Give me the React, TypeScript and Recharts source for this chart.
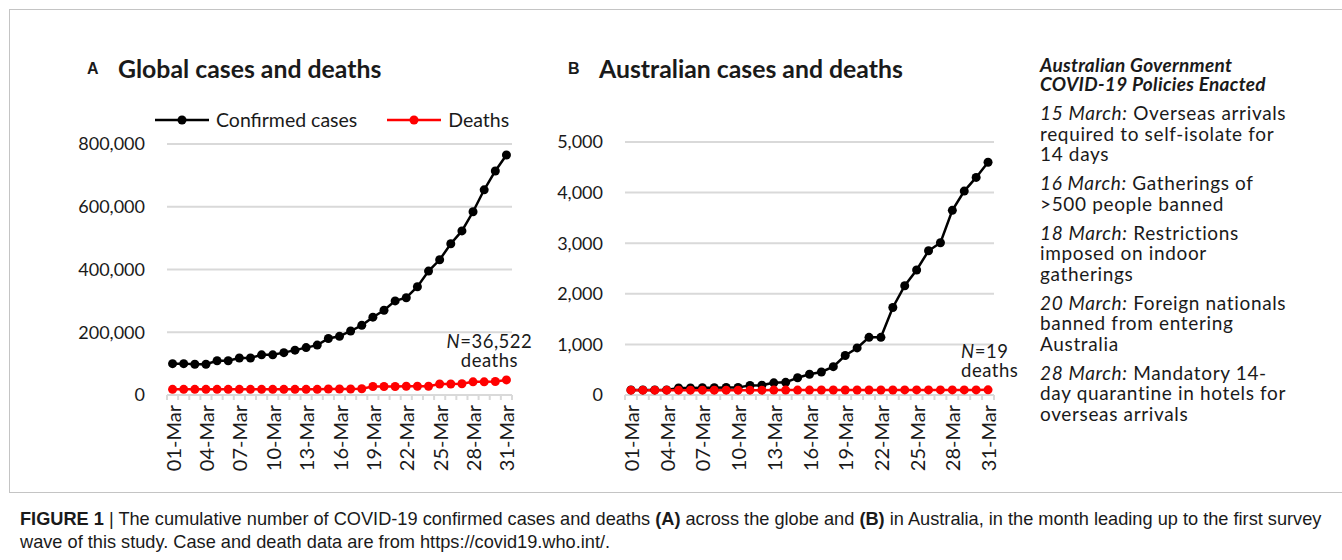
import React from 'react';
import { LineChart, Line, XAxis, YAxis, CartesianGrid, ReferenceDot } from 'recharts';

// categories: every day of March 2020
const days = [
  '01-Mar', '02-Mar', '03-Mar', '04-Mar', '05-Mar', '06-Mar', '07-Mar', '08-Mar', '09-Mar', '10-Mar',
  '11-Mar', '12-Mar', '13-Mar', '14-Mar', '15-Mar', '16-Mar', '17-Mar', '18-Mar', '19-Mar', '20-Mar',
  '21-Mar', '22-Mar', '23-Mar', '24-Mar', '25-Mar', '26-Mar', '27-Mar', '28-Mar', '29-Mar', '30-Mar',
  '31-Mar',
];

// values
const globalCases = [
  100000, 100000, 98000, 98000, 109000, 109000, 118000, 118000, 128000, 128000,
  135000, 143000, 151000, 159000, 180000, 187000, 204000, 222000, 248000, 270000,
  300000, 310000, 345000, 395000, 431000, 482000, 523000, 584000, 654000, 714000,
  765000,
];
const globalDeaths = [
  18000, 18000, 18000, 18000, 18000, 18000, 18000, 18000, 18000, 18000,
  18000, 18000, 18000, 18000, 19000, 19000, 19000, 20000, 27000, 27000,
  27000, 28000, 28000, 28000, 35000, 35000, 36000, 42000, 42000, 43000,
  48000,
];
const ausCases = [
  100, 100, 100, 100, 140, 140, 145, 145, 150, 150,
  190, 195, 240, 250, 340, 410, 455, 560, 780, 930,
  1140, 1140, 1730, 2160, 2470, 2850, 3010, 3650, 4030, 4300,
  4600,
];
const ausDeaths = [
  95, 95, 95, 95, 95, 95, 96, 96, 96, 96,
  96, 96, 97, 97, 97, 97, 98, 98, 98, 98,
  99, 99, 99, 100, 100, 100, 100, 101, 101, 101,
  102,
];

const globalTicks = [0, 200000, 400000, 600000, 800000];
const ausTicks = [0, 1000, 2000, 3000, 4000, 5000];

const policies = [
  { date: '15 March:', first: ' Overseas arrivals', rest: ['required to self-isolate for', '14 days'] },
  { date: '16 March:', first: ' Gatherings of', rest: ['>500 people banned'] },
  { date: '18 March:', first: ' Restrictions', rest: ['imposed on indoor', 'gatherings'] },
  { date: '20 March:', first: ' Foreign nationals', rest: ['banned from entering', 'Australia'] },
  { date: '28 March:', first: ' Mandatory 14-', rest: ['day quarantine in hotels for', 'overseas arrivals'] },
];

const FONT = 'Lato, "Noto Sans", sans-serif';
const GRID = '#d9d9d9';
const INK = '#1a1a1a';

const globalData = days.map((d, i) => ({ day: d, cases: globalCases[i], deaths: globalDeaths[i] }));
const ausData = days.map((d, i) => ({ day: d, cases: ausCases[i], deaths: ausDeaths[i] }));

const makeTick = (half: number, last: number) => (props: any) => {
  const { x, y, payload, index } = props;
  return (
    <g>
      <line x1={x - half} x2={x - half} y1={y} y2={y + 5} stroke={GRID} strokeWidth={2} />
      {index === last && <line x1={x + half} x2={x + half} y1={y} y2={y + 5} stroke={GRID} strokeWidth={2} />}
      {index % 3 === 0 && (
        <text
          x={x}
          y={y + 10}
          transform={`rotate(-90 ${x} ${y + 10})`}
          textAnchor="end"
          dominantBaseline="central"
          fontSize={20}
          fontFamily={FONT}
          fill={INK}
        >
          {payload.value}
        </text>
      )}
    </g>
  );
};

const NoteLabel = ({ viewBox, dx, anchor, count }: any) => {
  const cx = viewBox?.cx ?? viewBox?.x;
  const cy = viewBox?.cy ?? viewBox?.y;
  return (
    <text x={cx + dx} y={cy} textAnchor={anchor} fontSize={18.5} letterSpacing={0.5} fontFamily={FONT} fill={INK}>
      <tspan x={cx + dx} dy={-32}>
        <tspan fontStyle="italic">N</tspan>={count}
      </tspan>
      <tspan x={cx + dx} dy={19}>deaths</tspan>
    </text>
  );
};

interface PanelProps {
  data: any[];
  width: number;
  top: number;
  plotH: number;
  yWidth: number;
  max: number;
  ticks: number[];
  noteY: number;
  noteDx: number;
  noteAnchor: string;
  count: string;
}

const Panel = ({ data, width, top, plotH, yWidth, max, ticks, noteY, noteDx, noteAnchor, count }: PanelProps) => {
  const right = 34;
  const plotW = width - right - yWidth;
  const half = plotW / 62;
  return (
    <LineChart width={width} height={380} data={data} margin={{ top, right, bottom: 5, left: 0 }}>
      <CartesianGrid vertical={false} stroke={GRID} strokeWidth={2} />
      <XAxis
        dataKey="day"
        interval={0}
        height={380 - top - 5 - plotH}
        padding={{ left: half, right: half }}
        tickSize={0}
        tickMargin={0}
        tickLine={false}
        axisLine={{ stroke: GRID, strokeWidth: 2 }}
        tick={makeTick(half, data.length - 1)}
      />
      <YAxis
        width={yWidth}
        domain={[0, max]}
        ticks={ticks}
        interval={0}
        axisLine={false}
        tickLine={false}
        tickSize={6}
        tickMargin={16}
        tick={{ fontSize: 18, fill: INK, fontFamily: FONT }}
        tickFormatter={(v: number) => v.toLocaleString('en-US')}
      />
      <Line
        dataKey="cases"
        type="linear"
        stroke="#000000"
        strokeWidth={2.5}
        dot={{ r: 4.5, fill: '#000000', stroke: '#000000', strokeWidth: 0 }}
        isAnimationActive={false}
      />
      <Line
        dataKey="deaths"
        type="linear"
        stroke="#ff0000"
        strokeWidth={2.5}
        dot={{ r: 4.5, fill: '#ff0000', stroke: '#ff0000', strokeWidth: 0 }}
        isAnimationActive={false}
      />
      <ReferenceDot
        x={days[days.length - 1]}
        y={noteY}
        r={0}
        fill="none"
        stroke="none"
        label={<NoteLabel dx={noteDx} anchor={noteAnchor} count={count} />}
      />
    </LineChart>
  );
};

const Title = ({ left, letter, text }: { left: number; letter: string; text: string }) => (
  <div style={{ position: 'absolute', left, top: 54, display: 'flex', alignItems: 'baseline', color: INK, whiteSpace: 'nowrap' }}>
    <span style={{ fontFamily: '"Liberation Sans", Arial, sans-serif', fontWeight: 700, fontSize: 16, width: 31, position: 'relative', top: -4 }}>
      {letter}
    </span>
    <span style={{ fontFamily: FONT, fontWeight: 700, fontSize: 24.8 }}>{text}</span>
  </div>
);

const LegendItem = ({ color, label, gap }: { color: string; label: string; gap: number }) => (
  <span style={{ display: 'inline-flex', alignItems: 'center', marginRight: gap }}>
    <svg width={54} height={12} style={{ marginRight: 7 }}>
      <line x1={0} x2={54} y1={6} y2={6} stroke={color} strokeWidth={2.5} />
      <circle cx={27} cy={6} r={4.5} fill={color} />
    </svg>
    <span>{label}</span>
  </span>
);

export default function App() {
  return (
    <div style={{ position: 'absolute', left: 0, top: 0, width: 1342, height: 560, background: '#fff', overflow: 'hidden' }}>
      <div style={{ position: 'absolute', left: 9, top: 9, width: 1345, height: 482, border: '1px solid #c4c4c4' }} />

      <Title left={87} letter="A" text="Global cases and deaths" />
      <Title left={568} letter="B" text="Australian cases and deaths" />

      <div style={{ position: 'absolute', left: 155, top: 108, fontFamily: FONT, fontSize: 19.5, color: INK, display: 'flex', whiteSpace: 'nowrap' }}>
        <LegendItem color="#000000" label="Confirmed cases" gap={30} />
        <LegendItem color="#ff0000" label="Deaths" gap={0} />
      </div>

      <div style={{ position: 'absolute', left: 60, top: 100 }}>
        <Panel
          data={globalData}
          width={486}
          top={44}
          plotH={251}
          yWidth={107}
          max={800000}
          ticks={globalTicks}
          noteY={globalDeaths[globalDeaths.length - 1]}
          noteDx={-17}
          noteAnchor="middle"
          count="36,522"
        />
      </div>
      <div style={{ position: 'absolute', left: 540, top: 100 }}>
        <Panel
          data={ausData}
          width={488}
          top={42}
          plotH={253}
          yWidth={85}
          max={5000}
          ticks={ausTicks}
          noteY={ausDeaths[ausDeaths.length - 1]}
          noteDx={-27}
          noteAnchor="start"
          count="19"
        />
      </div>

      <div
        style={{
          position: 'absolute',
          left: 1040,
          top: 55,
          fontFamily: FONT,
          fontSize: 19,
          letterSpacing: 0.65,
          color: INK,
          whiteSpace: 'nowrap',
        }}
      >
        <div style={{ fontWeight: 700, fontStyle: 'italic', letterSpacing: 0.3, lineHeight: '19px', marginBottom: 10 }}>
          <div>Australian Government</div>
          <div>COVID-19 Policies Enacted</div>
        </div>
        {policies.map((p) => (
          <div key={p.date} style={{ lineHeight: '20.5px', marginBottom: 8.5 }}>
            <div>
              <span style={{ fontStyle: 'italic' }}>{p.date}</span>
              {p.first}
            </div>
            {p.rest.map((r) => (
              <div key={r}>{r}</div>
            ))}
          </div>
        ))}
      </div>

      <div
        style={{
          position: 'absolute',
          left: 20,
          top: 508,
          fontFamily: '"Liberation Sans Narrow", "Liberation Sans", Arial, sans-serif',
          fontSize: 18.2,
          lineHeight: '23px',
          color: INK,
          whiteSpace: 'nowrap',
        }}
      >
        <div>
          <b>FIGURE 1</b> | The cumulative number of COVID-19 confirmed cases and deaths <b>(A)</b> across the globe and{' '}
          <b>(B)</b> in Australia, in the month leading up to the first survey
        </div>
        <div>wave of this study. Case and death data are from https://covid19.who.int/.</div>
      </div>
    </div>
  );
}
